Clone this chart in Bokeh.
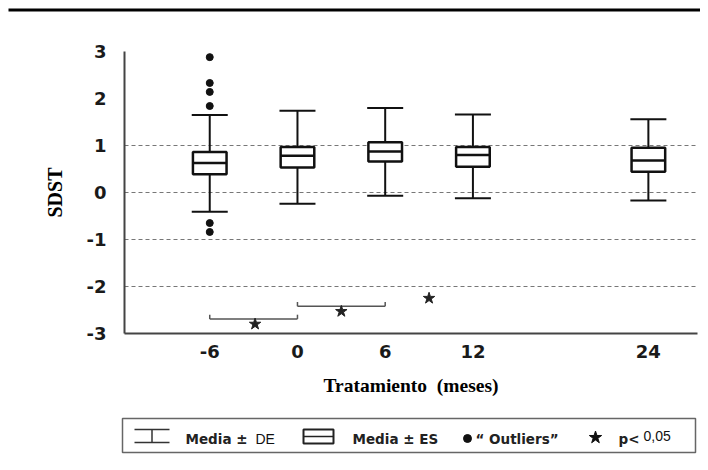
from bokeh.plotting import figure
from bokeh.models import Range1d, FixedTicker
from bokeh.embed import file_html
from bokeh.resources import INLINE
from bokeh.core.properties import value

# ---- data ----
months = [-6, 0, 6, 12, 24]
whisker_high = [1.65, 1.74, 1.80, 1.66, 1.56]
box_top = [0.86, 0.97, 1.07, 0.97, 0.95]
medians = [0.63, 0.78, 0.87, 0.80, 0.68]
box_bottom = [0.39, 0.53, 0.66, 0.55, 0.44]
whisker_low = [-0.41, -0.24, -0.07, -0.12, -0.17]
outlier_month = [-6, -6, -6, -6, -6, -6]
outlier_values = [2.88, 2.33, 2.14, 1.84, -0.65, -0.84]
bracket_start = [-6, 0]
bracket_end = [0, 6]
bracket_level = [-2.69, -2.42]
star_month = [-2.9, 3.0, 9.0]
star_level = [-2.80, -2.53, -2.25]
x_ticks = [-6, 0, 6, 12, 24]
y_ticks = [-3, -2, -1, 0, 1, 2, 3]
grid_levels = [-2, -1, 0, 1]
legend_bold = ["Media \u00b1", "Media \u00b1 ES", "\u201c Outliers\u201d", "p<"]
legend_plain = ["DE", "0,05"]
x_title = "Tratamiento\u00a0 (meses)"
y_title = "SDST"

W, H = 700, 462
X0, X1 = -11.83, 27.36      # axis extent (months)
Y0, Y1 = -3, 3              # axis extent (SDST)
FL, FT, FR, FB = 124, 51, 697, 333   # where the axes sit, canvas px


def cx(px):
    return X0 + (px - FL) * (X1 - X0) / (FR - FL)


def cy(py):
    return Y1 - (py - FT) * (Y1 - Y0) / (FB - FT)


p = figure(width=W, height=H, x_range=Range1d(cx(0), cx(W)), y_range=Range1d(cy(H), cy(0)),
           output_backend="svg", toolbar_location=None, min_border=0)
p.outline_line_color = None
p.grid.visible = False

xa, ya = p.xaxis[0], p.yaxis[0]
xa.fixed_location = Y0
ya.fixed_location = X0
xa.bounds = (X0, X1)
ya.bounds = (Y0, Y1)
xa.ticker = FixedTicker(ticks=x_ticks)
ya.ticker = FixedTicker(ticks=y_ticks)
xa.major_label_overrides = {t: str(t) for t in x_ticks}
ya.major_label_overrides = {t: str(t) for t in y_ticks}
for ax in (xa, ya):
    ax.major_tick_line_color = None
    ax.minor_tick_line_color = None
    ax.axis_line_color = "#444444"
    ax.axis_line_width = 2
    ax.major_label_text_font = "DejaVu Sans"
    ax.major_label_text_font_style = "bold"
    ax.major_label_text_font_size = "18px"
    ax.major_label_text_color = "#1a1a1a"
    ax.axis_label_text_font = "Liberation Serif"
    ax.axis_label_text_font_style = "bold"
    ax.axis_label_text_color = "black"
xa.major_label_standoff = 5
ya.major_label_standoff = 12
xa.axis_label = x_title
ya.axis_label = y_title
xa.axis_label_text_font_size = "19.5px"
ya.axis_label_text_font_size = "20px"
xa.axis_label_standoff = 14
ya.axis_label_standoff = 18

# dashed reference lines
p.segment(x0=[X0] * len(grid_levels), y0=grid_levels, x1=[X1] * len(grid_levels), y1=grid_levels,
          line_color="#777777", line_dash="4 3", line_width=1)

# whiskers
p.segment(x0=months, y0=whisker_low, x1=months, y1=whisker_high, line_color="#111111", line_width=2)
# boxes
p.vbar(x=months, width=2.3, top=box_top, bottom=box_bottom, fill_color="white",
       line_color="#111111", line_width=2.5)
# medians and caps
p.scatter(x=months, y=medians, marker="dash", size=33, line_color="#111111", line_width=2.5)
p.scatter(x=months, y=whisker_high, marker="dash", size=36, line_color="#111111", line_width=2)
p.scatter(x=months, y=whisker_low, marker="dash", size=36, line_color="#111111", line_width=2)
# outliers
p.scatter(x=outlier_month, y=outlier_values, marker="circle", size=7, fill_color="#111111", line_color="#111111")
# significance brackets
p.segment(x0=bracket_start, y0=bracket_level, x1=bracket_end, y1=bracket_level, line_color="#555555", line_width=1.5)
p.segment(x0=bracket_start, y0=bracket_level, x1=bracket_start, y1=[b + 0.09 for b in bracket_level],
          line_color="#555555", line_width=1.5)
p.segment(x0=bracket_end, y0=bracket_level, x1=bracket_end, y1=[b + 0.09 for b in bracket_level],
          line_color="#555555", line_width=1.5)
p.scatter(x=star_month, y=star_level, marker="star", size=12, fill_color="#222222", line_color="#222222")

# ---- top rule ----
p.quad(left=[cx(8)], right=[cx(W)], top=[cy(8)], bottom=[cy(11)], fill_color="black", line_color=None)

# ---- legend panel ----
p.quad(left=[cx(122)], right=[cx(695)], top=[cy(418)], bottom=[cy(452)], fill_color=None,
       line_color="#666666", line_width=1.5)
# whisker icon
p.segment(x0=[cx(134), cx(134), cx(151.5)], y0=[cy(429), cy(442), cy(429)],
          x1=[cx(169), cx(169), cx(151.5)], y1=[cy(429), cy(442), cy(442)],
          line_color="#333333", line_width=1.5)
# box icon
p.quad(left=[cx(303)], right=[cx(333)], top=[cy(429)], bottom=[cy(443)], fill_color="white",
       line_color="#222222", line_width=2)
p.segment(x0=[cx(303)], y0=[cy(436)], x1=[cx(333)], y1=[cy(436)], line_color="#222222", line_width=1.5)
# outlier and star icons
p.scatter(x=[cx(467)], y=[cy(438)], marker="circle", size=8, fill_color="#111111", line_color="#111111")
p.scatter(x=[cx(595)], y=[cy(437)], marker="star", size=13, fill_color="#111111", line_color="#111111")
p.text(x=[cx(185), cx(352), cx(475), cx(618)], y=[cy(438)] * 4, text=legend_bold,
       text_font=value("DejaVu Sans"), text_font_style="bold", text_font_size="13.5px",
       text_baseline="middle", text_align="left", text_color="#222222")
p.text(x=[cx(255), cx(643)], y=[cy(438), cy(435)], text=legend_plain,
       text_font=value("Liberation Sans"), text_font_size="14px",
       text_baseline="middle", text_align="left", text_color="#111111")

open("out.html", "w").write(file_html(p, INLINE))
